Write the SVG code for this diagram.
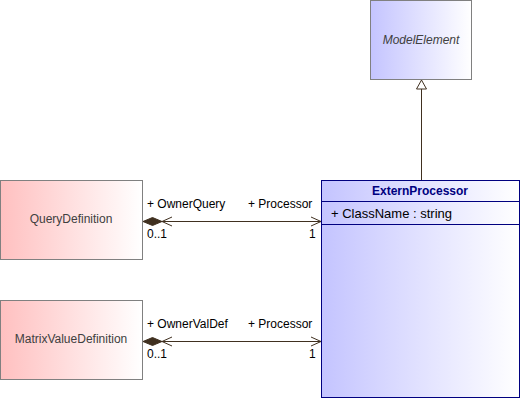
<svg xmlns="http://www.w3.org/2000/svg" width="521" height="400" viewBox="0 0 521 400">
<defs>
<linearGradient id="gBlue" x1="0" y1="0" x2="1" y2="0">
<stop offset="0" stop-color="#c4c4ff"/>
<stop offset="1" stop-color="#ffffff"/>
</linearGradient>
<linearGradient id="gPink" x1="0" y1="0" x2="1" y2="0">
<stop offset="0" stop-color="#ffc0c0"/>
<stop offset="1" stop-color="#ffffff"/>
</linearGradient>
<style>
text{font-family:"Liberation Sans",Arial,sans-serif;font-size:12px}
.nm{fill:#404040;text-anchor:middle}
.lbl{fill:#000000}
.ln{stroke:#403020;stroke-width:1;fill:none}
.dia{fill:#403020;stroke:#403020;stroke-width:1}
.gray{stroke:#808080;stroke-width:1}
</style>
</defs>
<g id="connectors">
<g id="gen">
<line class="ln" x1="421.5" y1="89" x2="421.5" y2="180"/>
<polygon points="421.5,80 416.5,89 426.5,89" fill="#ffffff" stroke="#403020" stroke-width="1"/>
</g>
<g id="assoc1">
<line class="ln" x1="143" y1="221.5" x2="321" y2="221.5"/>
<polygon class="dia" points="143,221.5 152.5,217.5 162,221.5 152.5,225.5"/>
<polyline class="ln" points="172,217 162,221.5 172,226"/>
<polyline class="ln" points="311,217 321,221.5 311,226"/>
<text class="lbl" x="147" y="208">+ OwnerQuery</text>
<text class="lbl" x="248" y="208">+ Processor</text>
<text class="lbl" x="147" y="238">0..1</text>
<text class="lbl" x="309" y="238">1</text>
</g>
<g id="assoc2">
<line class="ln" x1="143" y1="341.5" x2="321" y2="341.5"/>
<polygon class="dia" points="143,341.5 152.5,337.5 162,341.5 152.5,345.5"/>
<polyline class="ln" points="172,337 162,341.5 172,346"/>
<polyline class="ln" points="311,337 321,341.5 311,346"/>
<text class="lbl" x="147" y="328">+ OwnerValDef</text>
<text class="lbl" x="248" y="328">+ Processor</text>
<text class="lbl" x="147" y="358">0..1</text>
<text class="lbl" x="309" y="358">1</text>
</g>
</g>
<g id="ModelElement">
<rect class="gray" x="370.5" y="0.5" width="101" height="79" fill="url(#gBlue)"/>
<text class="nm" x="421" y="44" font-style="italic">ModelElement</text>
</g>
<g id="QueryDefinition">
<rect class="gray" x="0.5" y="180.5" width="142" height="79" fill="url(#gPink)"/>
<text class="nm" x="71" y="223">QueryDefinition</text>
</g>
<g id="MatrixValueDefinition">
<rect class="gray" x="0.5" y="300.5" width="142" height="79" fill="url(#gPink)"/>
<text class="nm" x="71" y="343">MatrixValueDefinition</text>
</g>
<g id="ExternProcessor">
<rect x="321.5" y="180.5" width="198" height="217" fill="url(#gBlue)" stroke="#000080" stroke-width="1"/>
<line x1="321.5" y1="201.5" x2="519.5" y2="201.5" stroke="#000080"/>
<line x1="321.5" y1="224.5" x2="519.5" y2="224.5" stroke="#000080"/>
<text x="420" y="195" text-anchor="middle" font-weight="bold" fill="#000080">ExternProcessor</text>
<text x="331" y="218" fill="#000000" style="font-size:13px">+ ClassName : string</text>
</g>
</svg>
